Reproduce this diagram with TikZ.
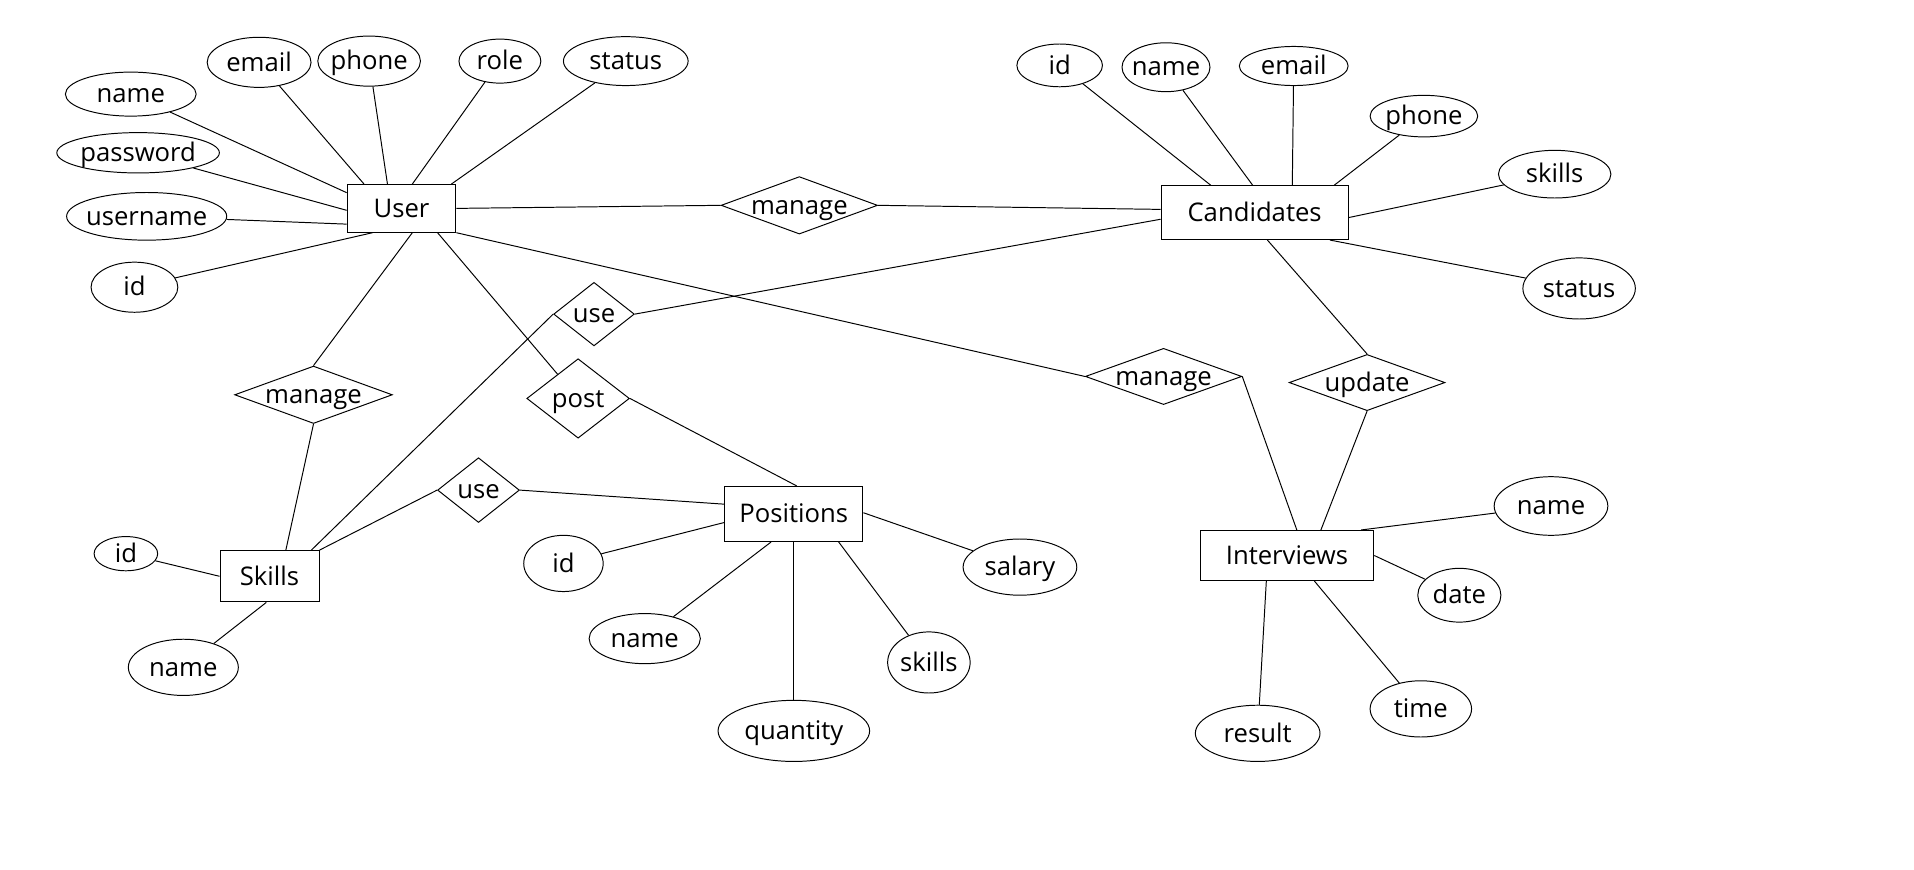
\documentclass[tikz,border=0pt]{standalone}
\usepackage{fontspec}
\setmainfont{Open Sans}
\usetikzlibrary{shapes.geometric}
\newcommand\mytxt[1]{\makebox[0pt]{\raisebox{-0.34em}[0pt][0pt]{#1}}}
\tikzset{
  base/.style={draw, inner sep=0pt, line width=0.8pt, font={\fontsize{21pt}{24pt}\selectfont}},
  ent/.style={base, rectangle},
  att/.style={base, ellipse},
  rel/.style={base, diamond},
  ln/.style={line width=0.8pt}
}
\begin{document}
\begin{tikzpicture}[x=1pt,y=-1pt]
\useasboundingbox[fill=white] (0,0) rectangle (1566,711.8);
% entities
\node[ent, minimum width=89pt, minimum height=39pt] (U) at (328.5,170.5) {\mytxt{User}};
\node[ent, minimum width=153pt, minimum height=44pt] (C) at (1026.5,174) {\mytxt{Candidates}};
\node[ent, minimum width=81pt, minimum height=42pt] (S) at (220.5,471.5) {\mytxt{Skills}};
\node[ent, minimum width=113pt, minimum height=45pt] (P) at (649.5,420.5) {\mytxt{Positions}};
\node[ent, minimum width=142pt, minimum height=41pt] (I) at (1053,454.5) {\mytxt{Interviews}};
% User attributes
\node[att, minimum width=107pt, minimum height=36pt] (Un) at (107,77) {\mytxt{name}};
\node[att, minimum width=85pt, minimum height=41pt] (Ue) at (212,51) {\mytxt{email}};
\node[att, minimum width=84pt, minimum height=41pt] (Up) at (302,50) {\mytxt{phone}};
\node[att, minimum width=67pt, minimum height=36pt] (Ur) at (409,50) {\mytxt{role}};
\node[att, minimum width=102pt, minimum height=40pt] (Us) at (512,50) {\mytxt{status}};
\node[att, minimum width=133pt, minimum height=33pt] (Upw) at (113,125) {\mytxt{password}};
\node[att, minimum width=131pt, minimum height=39pt] (Uu) at (120,177) {\mytxt{username}};
\node[att, minimum width=71pt, minimum height=41pt] (Ui) at (110,235) {\mytxt{id}};
% Candidates attributes
\node[att, minimum width=70pt, minimum height=35pt] (Ci) at (867,53.5) {\mytxt{id}};
\node[att, minimum width=72pt, minimum height=40pt] (Cn) at (954,55) {\mytxt{name}};
\node[att, minimum width=89pt, minimum height=32pt] (Ce) at (1058.5,54) {\mytxt{email}};
\node[att, minimum width=88pt, minimum height=34pt] (Cp) at (1165,95) {\mytxt{phone}};
\node[att, minimum width=92pt, minimum height=39pt] (Csk) at (1272,142.5) {\mytxt{skills}};
\node[att, minimum width=92pt, minimum height=50pt] (Cst) at (1292,236) {\mytxt{status}};
% Skills attributes
\node[att, minimum width=52pt, minimum height=28pt] (Si) at (103,453) {\mytxt{id}};
\node[att, minimum width=90pt, minimum height=46pt] (Sn) at (150,546) {\mytxt{name}};
% Positions attributes
\node[att, minimum width=65pt, minimum height=46pt] (Pi) at (461,461) {\mytxt{id}};
\node[att, minimum width=93pt, minimum height=46pt] (Ps) at (834.5,464) {\mytxt{salary}};
\node[att, minimum width=91pt, minimum height=41pt] (Pn) at (527.5,522.5) {\mytxt{name}};
\node[att, minimum width=124pt, minimum height=50pt] (Pq) at (649.5,598) {\mytxt{quantity}};
\node[att, minimum width=67.5pt, minimum height=50pt] (Psk) at (760,542) {\mytxt{skills}};
% Interviews attributes
\node[att, minimum width=93pt, minimum height=48pt] (In) at (1269,414) {\mytxt{name}};
\node[att, minimum width=68pt, minimum height=44pt] (Id) at (1194,487) {\mytxt{date}};
\node[att, minimum width=83pt, minimum height=46pt] (It) at (1162.5,580) {\mytxt{time}};
\node[att, minimum width=102pt, minimum height=46pt] (Ir) at (1029,600) {\mytxt{result}};
% relationships
\node[rel, minimum width=128pt, minimum height=47pt] (M1) at (654,168) {\mytxt{manage}};
\node[rel, minimum width=128pt, minimum height=46pt] (M2) at (952,308) {\mytxt{manage}};
\node[rel, minimum width=129pt, minimum height=47pt] (M3) at (256.5,323) {\mytxt{manage}};
\node[rel, minimum width=66pt, minimum height=52pt] (UA) at (486,257) {\mytxt{use}};
\node[rel, minimum width=67pt, minimum height=53pt] (UB) at (391.5,401) {\mytxt{use}};
\node[rel, minimum width=84pt, minimum height=65pt] (Po) at (473,326) {\mytxt{post}};
\node[rel, minimum width=127.5pt, minimum height=46pt] (Upd) at (1118.5,313) {\mytxt{update}};
% User attribute lines
\draw[ln] (U.164) -- (Un);
\draw[ln] (U.147) -- (Ue);
\draw[ln] (U.120) -- (Up);
\draw[ln] (U.66) -- (Ur);
\draw[ln] (U.26) -- (Us);
\draw[ln] (U.182) -- (Upw);
\draw[ln] (U.196) -- (Uu);
\draw[ln] (U.220) -- (Ui);
% Candidates attribute lines
\draw[ln] (C.148) -- (Ci);
\draw[ln] (C.94) -- (Cn);
\draw[ln] (C.36) -- (Ce);
\draw[ln] (C.19) -- (Cp);
\draw[ln] (C.357) -- (Csk);
\draw[ln] (C.340) -- (Cst);
% Skills attribute lines
\draw[ln] (S.west) -- (Si);
\draw[ln] (S.263) -- (Sn);
% Positions attribute lines
\draw[ln] (P.187) -- (Pi);
\draw[ln] (P.1.5) -- (Ps);
\draw[ln] (P.231) -- (Pn);
\draw[ln] (P.south) -- (Pq);
\draw[ln] (P.328) -- (Psk);
% Interviews attribute lines
\draw[ln] (I.19.5) -- (In);
\draw[ln] (I.east) -- (Id);
\draw[ln] (I.317) -- (It);
\draw[ln] (I.231) -- (Ir);
% relationship lines
\draw[ln] (U.east) -- (M1.west);
\draw[ln] (M1.east) -- (C.178.5);
\draw[ln] (U.south east) -- (M2.west);
\draw[ln] (M2.east) -- (I.69);
\draw[ln] (U.294) -- (M3.north);
\draw[ln] (M3.south) -- (S.58);
\draw[ln] (U.326) -- (Po);
\draw[ln] (Po.east) -- (P.84);
\draw[ln] (C.184) -- (UA.east);
\draw[ln] (UA.west) -- (S.32);
\draw[ln] (S.north east) -- (UB.west);
\draw[ln] (UB.east) -- (P.172);
\draw[ln] (C.295) -- (Upd.north);
\draw[ln] (Upd.south) -- (I.37);
\end{tikzpicture}
\end{document}
